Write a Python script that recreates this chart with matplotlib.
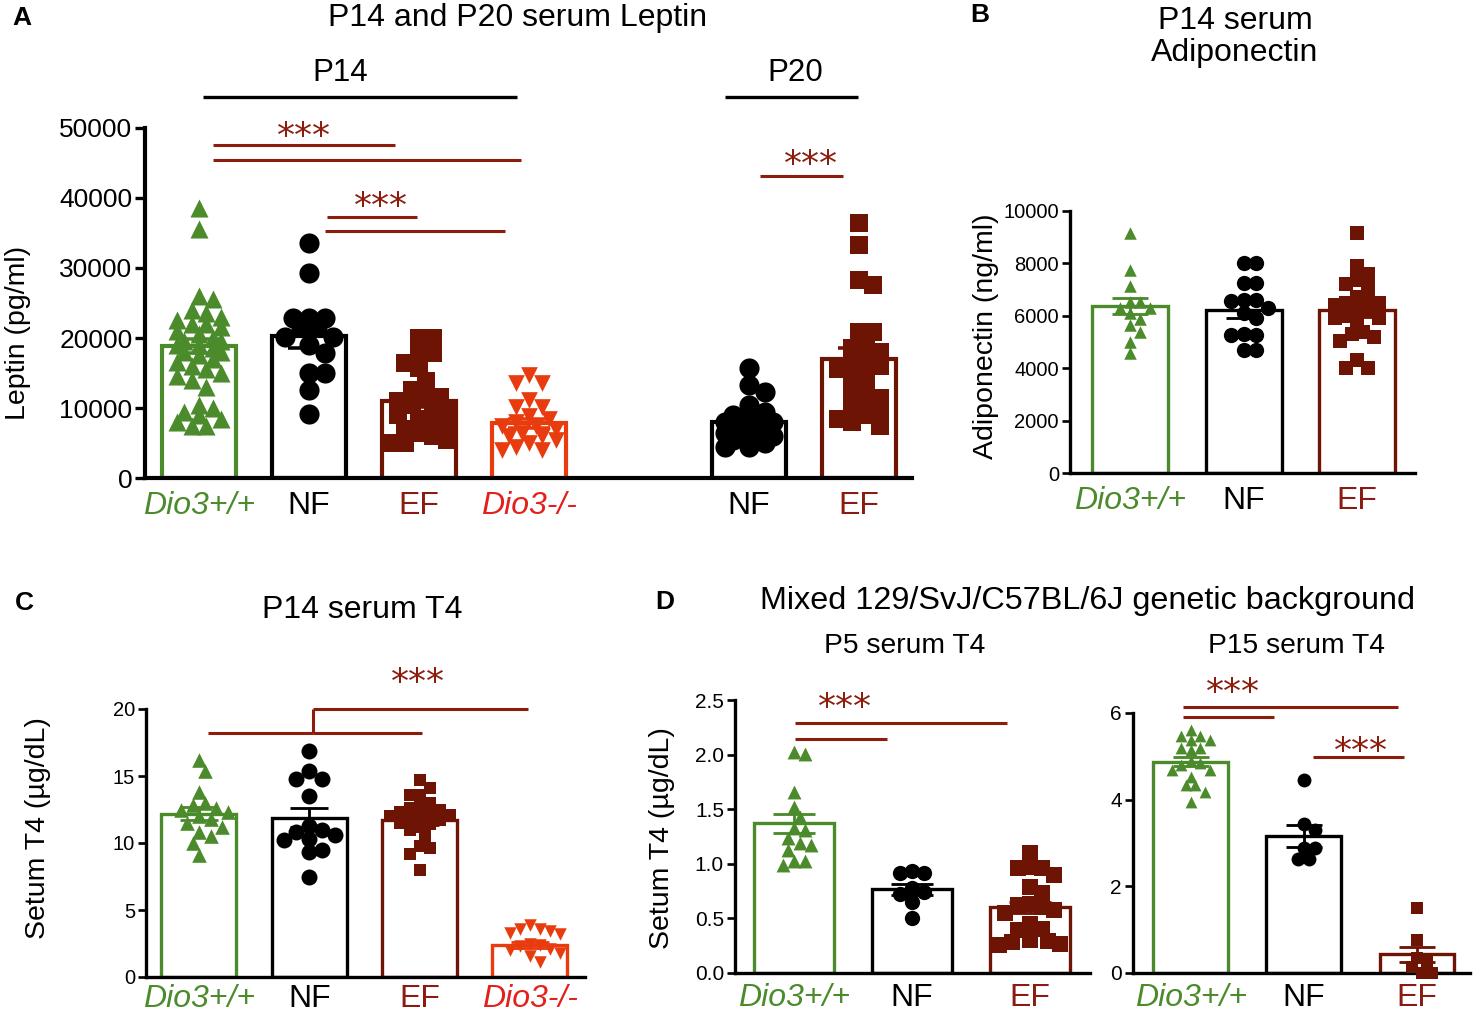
import matplotlib
matplotlib.use('Agg')
import matplotlib.pyplot as plt
import numpy as np

plt.rcParams['font.family'] = ['Liberation Sans', 'DejaVu Sans']

W, H = 1476, 1015

GREEN = '#4b8b2b'
DRED = '#6e1405'
ORANGE = '#e83c0f'
SIG = '#8c1c0c'

# group -> (colour, marker, label colour, italic)
STYLE = {
    'Dio3+/+': (GREEN, '^', GREEN, True),
    'NF': ('black', 'o', 'black', False),
    'EF': (DRED, 's', '#8b1a10', False),
    'Dio3-/-': (ORANGE, 'v', '#e3201b', True),
}

# ---- A: leptin (pg/ml, values in thousands) ----
lep_groups = ['Dio3+/+', 'NF', 'EF', 'Dio3-/-', 'NF', 'EF']
lep_pos = [0, 1, 2, 3, 5, 6]
lep_mean = [18.9, 20.3, 11.0, 7.8, 8.0, 17.0]
lep_sem = [1.0, 1.7, 0.9, 0.7, 0.6, 1.5]
lep_wt14 = [38.5, 35.5, 26, 25.5, 24, 23.5, 23, 22.5, 22, 22, 21.5, 21, 20.5, 20, 19.5,
            19.5, 19, 19, 18.5, 18, 18, 17.5, 17, 16.5, 16, 15.5, 15, 14.5, 14, 13,
            10.5, 10, 9.5, 9, 8.5, 8, 7.5, 7.5]
lep_nf14 = [33.6, 29.3, 22.8, 22.8, 22.8, 21.6, 21.6, 20.2, 20.2, 19, 17.8, 15, 15, 12.6, 9.2]
lep_ef14 = [20, 20, 17.8, 17.8, 16.4, 15.7, 13.8, 12.6, 11.6, 11.6, 11, 10.5, 10, 9.5, 9,
            8.5, 8, 7.5, 7, 6.5, 6, 5.5, 5, 5]
lep_ko14 = [14.7, 13.5, 13.5, 11.1, 10.2, 10.2, 8.8, 8.5, 8, 7.5, 7.5, 7, 6.5, 6, 6, 5.5,
            5, 4.5, 4, 4]
lep_nf20 = [15.7, 13.3, 12.3, 10.4, 9.5, 9, 8.5, 8, 8, 7.5, 7, 7, 6.5, 6.5, 6, 6, 5.5, 5,
            4.5, 4.5]
lep_ef20 = [36.4, 33.3, 28.3, 27.6, 20.9, 20.9, 19, 18.5, 18, 17, 16.5, 16, 15.5, 15, 14,
            13, 12, 11.5, 11, 10, 9.5, 9, 8.5, 8, 7.5]

# ---- B: adiponectin (ng/ml, thousands) ----
adi_groups = ['Dio3+/+', 'NF', 'EF']
adi_mean = [6.37, 6.22, 6.22]
adi_sem = [0.31, 0.3, 0.25]
adi_wt = [9.15, 7.75, 7.15, 6.54, 6.54, 6.28, 6.28, 6.1, 5.87, 5.65, 5.39, 5.01, 4.57]
adi_nf = [8.0, 8.0, 7.24, 7.24, 6.6, 6.6, 6.55, 6.3, 6.1, 5.9, 5.27, 5.27, 5.3, 4.7, 4.7]
adi_ef = [9.15, 7.9, 7.6, 7.35, 7.2, 7.05, 6.7, 6.6, 6.5, 6.5, 6.4, 6.3, 6.2, 6.0, 5.9,
          5.9, 5.8, 5.4, 5.3, 5.2, 5.05, 4.3, 4.0, 4.0]

# ---- C: P14 T4 (ug/dL) ----
t4_groups = ['Dio3+/+', 'NF', 'EF', 'Dio3-/-']
t4_mean = [12.2, 11.9, 11.7, 2.4]
t4_sem = [0.45, 0.7, 0.35, 0.2]
t4_wt = [16.2, 15.4, 13.8, 13, 12.8, 12.6, 12.5, 12.3, 12, 11.8, 11.5, 11.2, 10.8, 10.5, 10, 9.1]
t4_nf = [16.9, 15.4, 14.8, 14.8, 13.5, 11.3, 11, 10.8, 10.6, 10.3, 10.2, 9.5, 9.3, 7.5]
t4_ef = [14.7, 14.1, 13.6, 13.6, 13, 12.8, 12.6, 12.5, 12.3, 12.2, 12.1, 12, 12, 11.8, 11.7,
         11.5, 11.4, 11.2, 11, 10.5, 9.8, 9.6, 9.2, 8]
t4_ko = [3.9, 3.6, 3.6, 3.4, 3.3, 3.2, 2.5, 2.4, 2.3, 2.1, 2.0, 1.8, 1.6, 1.1]

# ---- D: mixed background, P5 and P15 T4 ----
mix_groups = ['Dio3+/+', 'NF', 'EF']
p5_mean = [1.37, 0.765, 0.6]
p5_sem = [0.09, 0.05, 0.05]
p5_wt = [2.02, 2.01, 1.66, 1.52, 1.43, 1.33, 1.31, 1.24, 1.19, 1.17, 1.13, 1.03, 1.03, 0.99]
p5_nf = [0.93, 0.92, 0.92, 0.78, 0.74, 0.72, 0.65, 0.5]
p5_ef = [1.1, 0.97, 0.96, 0.96, 0.9, 0.79, 0.73, 0.63, 0.62, 0.6, 0.58, 0.55, 0.45, 0.4,
         0.39, 0.3, 0.29, 0.28, 0.27, 0.26]
p15_mean = [4.88, 3.16, 0.43]
p15_sem = [0.1, 0.25, 0.18]
p15_wt = [5.61, 5.46, 5.46, 5.38, 5.38, 5.2, 5.2, 5.15, 4.9, 4.85, 4.8, 4.69, 4.69, 4.53,
          4.34, 4.34, 4.18, 3.95]
p15_nf = [4.45, 3.45, 3.3, 2.88, 2.88, 2.63, 2.63]
p15_ef = [1.5, 0.76, 0.35, 0.25, 0.15, 0.0, 0.0]


def px_axes(fig, left, top, right, bottom):
    return fig.add_axes([left / W, 1 - bottom / H, (right - left) / W, (bottom - top) / H])


def swarm(ax, xc, vals, d, maxoff):
    # beeswarm limited to the bar width; overlap allowed when crowded
    tr = ax.transData
    pts = tr.transform(np.column_stack([np.full(len(vals), xc), vals]))
    x0 = pts[0, 0]
    ys = pts[:, 1]
    step = d * 0.5
    cands = [0.0]
    k = 1
    while k * step <= maxoff:
        cands += [k * step, -k * step]
        k += 1
    placed = []
    offs = np.zeros(len(vals))
    for i in np.argsort(-np.asarray(vals), kind='stable'):
        best, best_d = 0.0, -1
        for c in cands:
            md = min([np.hypot(c - a, ys[i] - b) for a, b in placed] + [1e9])
            if md >= d:
                best = c
                break
            if md > best_d:
                best, best_d = c, md
        placed.append((best, ys[i]))
        offs[i] = best
    inv = tr.inverted()
    return inv.transform(np.column_stack([x0 + offs, ys]))[:, 0]


def draw_panel(ax, pos, groups, means, sems, points, msz, bw, lw, cap, tfs, xpad=9):
    bar_px = ax.transData.transform([[bw, 0]])[0, 0] - ax.transData.transform([[0, 0]])[0, 0]
    for x, g, m, s, p in zip(pos, groups, means, sems, points):
        col, mk = STYLE[g][0], STYLE[g][1]
        ax.bar(x, m, width=bw, facecolor='white', edgecolor=col, linewidth=lw, zorder=1)
        mpx = msz[mk] / 0.72
        xs = swarm(ax, x, p, mpx * 0.8, bar_px / 2 - mpx * 0.45)
        ax.scatter(xs, p, s=msz[mk] ** 2, marker=mk, color=col, linewidths=0,
                   zorder=3, clip_on=False)
        ax.errorbar(x, m, yerr=s, fmt='none', ecolor=col, elinewidth=lw * 0.85,
                    capsize=cap, capthick=lw * 0.85, zorder=4)
    for sp in ['top', 'right']:
        ax.spines[sp].set_visible(False)
    for sp in ['left', 'bottom']:
        ax.spines[sp].set_linewidth(lw)
    ax.set_xticks(pos)
    ax.set_xticklabels(groups)
    for lbl, g in zip(ax.get_xticklabels(), groups):
        lbl.set_color(STYLE[g][2])
        if STYLE[g][3]:
            lbl.set_style('italic')
    ax.tick_params(axis='x', length=0, pad=xpad, labelsize=23)
    ax.tick_params(axis='y', length=6, width=lw * 0.8, pad=2, labelsize=tfs)


def stars(ax, x, y, fs=26):
    ax.annotate('***', xy=(x, y), xytext=(0, -0.6 * fs), textcoords='offset points',
                ha='center', va='baseline', color=SIG, fontsize=fs,
                family='DejaVu Sans', annotation_clip=False)


def sig(ax, xs, ys, color=SIG, lw=2.2):
    ax.plot(xs, ys, color=color, lw=lw, clip_on=False, solid_capstyle='butt')


fig = plt.figure(figsize=(W / 100, H / 100), dpi=100)

# ---- panel A ----
axA = px_axes(fig, 145, 128, 912, 478)
axA.set_xlim(-0.49, 6.48)
axA.set_ylim(0, 50)
axA.set_yticks([0, 10, 20, 30, 40, 50])
axA.set_yticklabels(['0', '10000', '20000', '30000', '40000', '50000'])
draw_panel(axA, lep_pos, lep_groups, lep_mean, lep_sem,
           [lep_wt14, lep_nf14, lep_ef14, lep_ko14, lep_nf20, lep_ef20],
           {'^': 13, 'o': 14.5, 's': 12.5, 'v': 12}, 0.67, 3.0, 15, 19)
axA.tick_params(axis='y', length=7)
sig(axA, [0.13, 1.78], [47.6, 47.6])
sig(axA, [0.13, 2.93], [45.4, 45.4])
stars(axA, 0.95, 50.4)
sig(axA, [1.16, 1.98], [37.3, 37.3])
sig(axA, [1.15, 2.78], [35.3, 35.3])
stars(axA, 1.65, 40.4)
sig(axA, [5.1, 5.85], [43.1, 43.1])
stars(axA, 5.56, 46.4)
sig(axA, [0.04, 2.89], [54.4, 54.4], color='black', lw=2.4)
sig(axA, [4.78, 5.99], [54.4, 54.4], color='black', lw=2.4)
axA.text(1.28, 57.9, 'P14', ha='center', va='center', fontsize=22.5)
axA.text(5.42, 57.9, 'P20', ha='center', va='center', fontsize=22.5)

# ---- panel B ----
axB = px_axes(fig, 1070, 211, 1415, 473)
axB.set_xlim(-0.53, 2.51)
axB.set_ylim(0, 10)
axB.set_yticks([0, 2, 4, 6, 8, 10])
axB.set_yticklabels(['0', '2000', '4000', '6000', '8000', '10000'])
draw_panel(axB, [0, 1, 2], adi_groups, adi_mean, adi_sem, [adi_wt, adi_nf, adi_ef],
           {'^': 9, 'o': 11, 's': 10}, 0.67, 2.4, 13, 14.5)

# ---- panel C ----
axC = px_axes(fig, 146, 709, 585, 977)
axC.set_xlim(-0.48, 3.5)
axC.set_ylim(0, 20)
axC.set_yticks([0, 5, 10, 15, 20])
draw_panel(axC, [0, 1, 2, 3], t4_groups, t4_mean, t4_sem, [t4_wt, t4_nf, t4_ef, t4_ko],
           {'^': 10.5, 'o': 11.5, 's': 9, 'v': 9}, 0.68, 2.4, 14, 14.5, xpad=5)
sig(axC, [0.08, 1.03], [18.2, 18.2])
sig(axC, [1.03, 2.02], [18.2, 18.2])
sig(axC, [1.03, 1.03], [18.2, 20.0])
sig(axC, [1.03, 2.98], [20.0, 20.0])
stars(axC, 1.99, 22.8)

# ---- panel D (P5) ----
axD1 = px_axes(fig, 735, 700, 1090, 973)
axD1.set_xlim(-0.5, 2.51)
axD1.set_ylim(0, 2.5)
axD1.set_yticks([0, 0.5, 1.0, 1.5, 2.0, 2.5])
axD1.set_yticklabels(['0.0', '0.5', '1.0', '1.5', '2.0', '2.5'])
draw_panel(axD1, [0, 1, 2], mix_groups, p5_mean, p5_sem, [p5_wt, p5_nf, p5_ef],
           {'^': 10, 'o': 11, 's': 11}, 0.68, 2.4, 15, 15, xpad=7)
sig(axD1, [0.01, 1.81], [2.29, 2.29])
sig(axD1, [0.01, 0.79], [2.14, 2.14])
stars(axD1, 0.43, 2.53)

# ---- panel D (P15) ----
axD2 = px_axes(fig, 1133, 713, 1470, 973)
axD2.set_xlim(-0.51, 2.47)
axD2.set_ylim(0, 6)
axD2.set_yticks([0, 2, 4, 6])
draw_panel(axD2, [0, 1, 2], mix_groups, p15_mean, p15_sem, [p15_wt, p15_nf, p15_ef],
           {'^': 8.5, 'o': 10, 's': 9}, 0.66, 2.4, 13, 15, xpad=7)
sig(axD2, [-0.07, 1.83], [6.15, 6.15])
sig(axD2, [-0.07, 0.74], [5.9, 5.9])
stars(axD2, 0.37, 6.73)
sig(axD2, [1.08, 1.89], [4.98, 4.98])
stars(axD2, 1.51, 5.38)


def ftext(x, y, s, **kw):
    fig.text(x / W, 1 - y / H, s, **kw)


# titles, axis labels, panel letters
ftext(518, 18, 'P14 and P20 serum Leptin', ha='center', va='center', fontsize=23)
ftext(1235, 37, 'P14 serum\nAdiponectin', ha='center', va='center', fontsize=23,
      linespacing=1.1)
ftext(362, 610, 'P14 serum T4', ha='center', va='center', fontsize=23)
ftext(1088, 601, 'Mixed 129/SvJ/C57BL/6J genetic background', ha='center', va='center',
      fontsize=23.3)
ftext(905, 646, 'P5 serum T4', ha='center', va='center', fontsize=20.3)
ftext(1296, 646, 'P15 serum T4', ha='center', va='center', fontsize=20.3)

ftext(18, 333, 'Leptin (pg/ml)', ha='center', va='center', rotation=90, fontsize=20.5)
ftext(986, 336, 'Adiponectin (ng/ml)', ha='center', va='center', rotation=90, fontsize=20.5)
ftext(38, 828, 'Setum T4 (µg/dL)', ha='center', va='center', rotation=90, fontsize=20.5)
ftext(662, 838, 'Setum T4 (µg/dL)', ha='center', va='center', rotation=90, fontsize=20.5)

for letter, x, y in [('A', 12, 18), ('B', 970, 15), ('C', 15, 603), ('D', 655, 602)]:
    ftext(x, y, letter, ha='left', va='center', fontsize=19, fontweight='bold')

fig.savefig('out.png', dpi=100)
